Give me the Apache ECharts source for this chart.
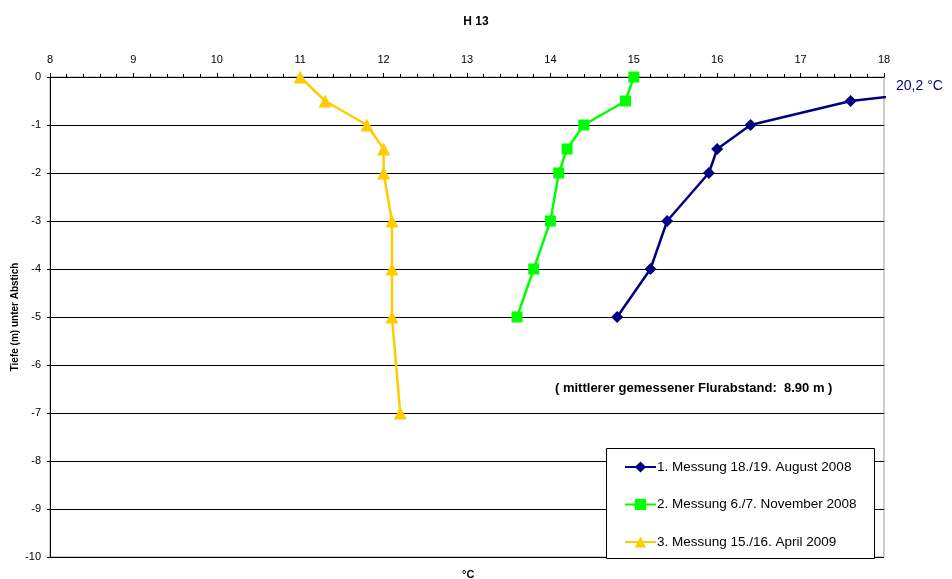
<!DOCTYPE html>
<html>
<head>
<meta charset="utf-8">
<script src="https://cdn.jsdelivr.net/npm/echarts@6/dist/echarts.min.js"></script>
<style>
  html, body { margin: 0; padding: 0; background: #fff; }
  #chart { width: 952px; height: 579px; }
</style>
</head>
<body>
<div id="chart"></div>
<script>
// Messwerte: Tiefe (m) und Temperatur (°C)
const depth1 = [0, -0.5, -1, -1.5, -2, -3, -4, -5];
const temp1 = [20.2, 17.6, 16.4, 16.0, 15.9, 15.4, 15.2, 14.8];
const depth2 = [0, -0.5, -1, -1.5, -2, -3, -4, -5];
const temp2 = [15.0, 14.9, 14.4, 14.2, 14.1, 14.0, 13.8, 13.6];
const depth3 = [0, -0.5, -1, -1.5, -2, -3, -4, -5, -7];
const temp3 = [11.0, 11.3, 11.8, 12.0, 12.0, 12.1, 12.1, 12.1, 12.2];
const seriesNames = [
  "1. Messung 18./19. August 2008",
  "2. Messung 6./7. November 2008",
  "3. Messung 15./16. April 2009",
];

const font = "Liberation Sans, Arial, sans-serif";
const myChart = echarts.init(document.getElementById("chart"));

const pairs = (xs, ys) => xs.map((x, i) => [x, ys[i]]);

const options = {
  animation: false,
  title: {
    text: "H 13",
    left: "center",
    top: 11,
    textStyle: { fontFamily: font, fontSize: 12, fontWeight: "bold", color: "#000" },
  },
  grid: {
    left: 50,
    right: 68,
    top: 77,
    bottom: 22,
    outerBoundsMode: "none",
    containLabel: false,
    show: true,
    borderColor: "#999",
    borderWidth: 1,
  },
  xAxis: {
    type: "value",
    position: "top",
    min: 8,
    max: 18,
    interval: 1,
    axisLine: { show: true, lineStyle: { color: "#000", width: 1 } },
    axisTick: { show: true, length: 4, lineStyle: { color: "#000" } },
    minorTick: { show: true, splitNumber: 5, length: 3, lineStyle: { color: "#000" } },
    axisLabel: { fontFamily: font, fontSize: 11, color: "#000", margin: 12 },
    splitLine: { show: false },
  },
  yAxis: {
    type: "value",
    min: -10,
    max: 0,
    interval: 1,
    name: "Tiefe (m) unter Abstich",
    nameLocation: "middle",
    nameGap: 30,
    nameMoveOverlap: false,
    nameTextStyle: { fontFamily: font, fontSize: 10, fontWeight: "bold", color: "#000" },
    axisLine: { show: true, lineStyle: { color: "#000", width: 1 } },
    axisTick: { show: true, length: 3, lineStyle: { color: "#000" } },
    axisLabel: { fontFamily: font, fontSize: 11, color: "#000", margin: 9 },
    splitLine: { show: true, lineStyle: { color: "#000", width: 1 } },
  },
  legend: {
    orient: "vertical",
    left: 619,
    top: 455,
    z: 10,
    itemWidth: 31,
    itemHeight: 14,
    itemGap: 23.5,
    textStyle: {
      fontFamily: font,
      fontSize: 13.5,
      lineHeight: 14,
      color: "#000",
      padding: [0, 0, 0, -4],
    },
    data: seriesNames,
  },
  series: [
    {
      name: seriesNames[0],
      type: "line",
      data: pairs(temp1, depth1),
      color: "#000080",
      symbol: "diamond",
      symbolSize: 12,
      lineStyle: { width: 2.5 },
      clip: true,
      z: 4,
    },
    {
      name: seriesNames[1],
      type: "line",
      data: pairs(temp2, depth2),
      color: "#00ff00",
      symbol: "rect",
      symbolSize: 11,
      lineStyle: { width: 2.5 },
      z: 3,
    },
    {
      name: seriesNames[2],
      type: "line",
      data: pairs(temp3, depth3),
      color: "#ffcc00",
      symbol: "triangle",
      symbolSize: 13,
      lineStyle: { width: 2.5 },
      z: 2,
    },
  ],
  graphic: [
    {
      type: "rect",
      left: 606,
      top: 448,
      shape: { width: 268, height: 110 },
      style: { fill: "#fff", stroke: "#000", lineWidth: 1 },
      z: 1,
    },
    {
      type: "text",
      left: 896,
      top: 79,
      style: { text: "20,2 °C", font: "14px " + font, fill: "#000080" },
    },
    {
      type: "text",
      left: 555,
      top: 382,
      style: {
        text: "( mittlerer gemessener Flurabstand:  8.90 m )",
        font: "bold 13px " + font,
        fill: "#000",
      },
    },
    {
      type: "text",
      left: 462,
      top: 569,
      style: { text: "°C", font: "bold 11px " + font, fill: "#000" },
    },
  ],
};

myChart.setOption(options);
</script>
</body>
</html>
